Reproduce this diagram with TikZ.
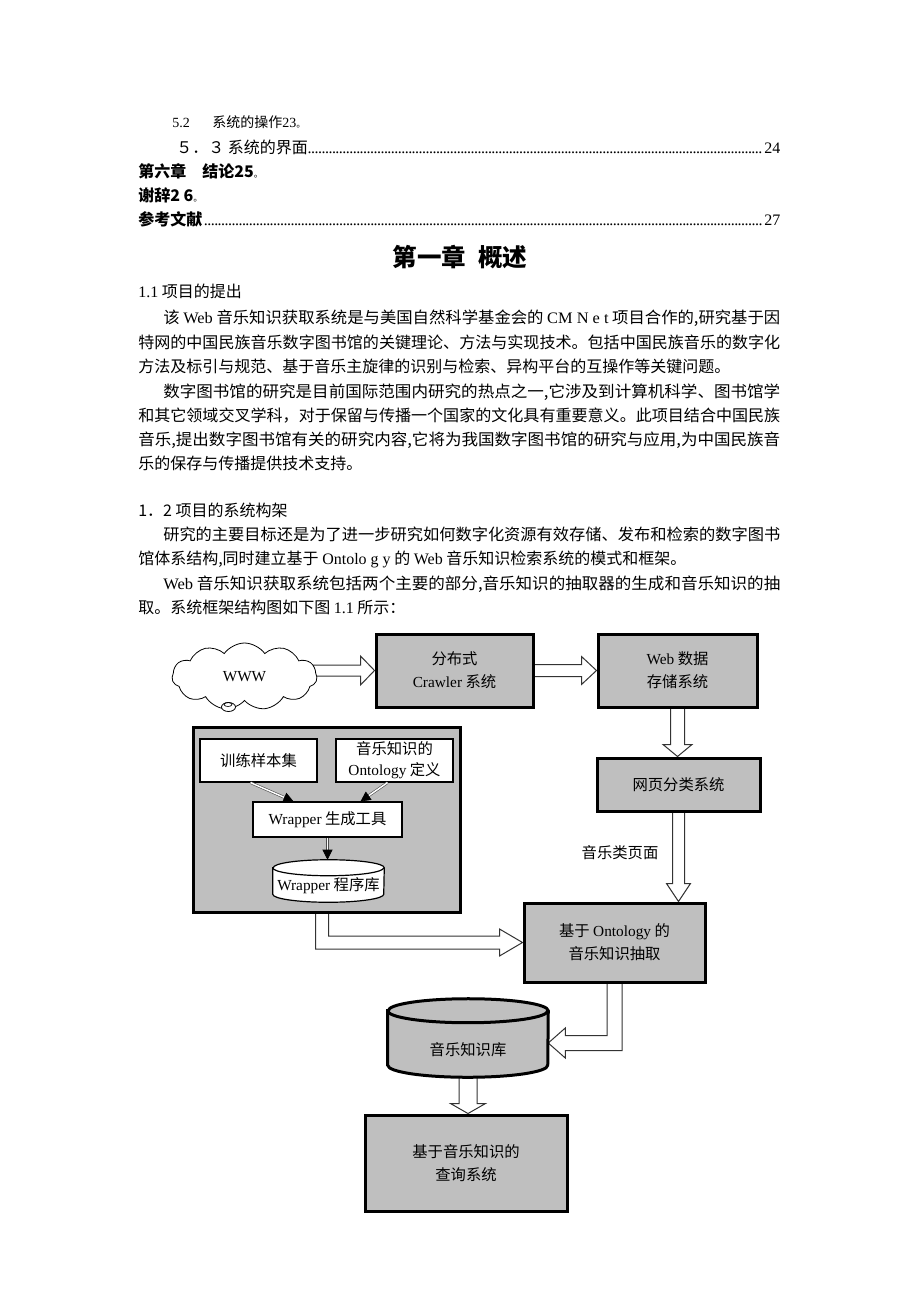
\documentclass[tikz,border=0pt]{standalone}
\usepackage{graphicx}
\usepackage{fontspec}
\setmainfont{Noto Sans CJK SC}
\newfontfamily\lat{Liberation Serif}
\usetikzlibrary{shapes.symbols,calc,arrows.meta}
\pgfdeclarelayer{bg}
\pgfdeclarelayer{arr}
\pgfsetlayers{bg,arr,main}
\newcommand\dotlead{\leaders\hbox to 2.6pt{\hss\lat.\hss}\hfill}
\newcommand\J[2]{\resizebox{#1}{\height}{#2}}
\newcommand\pmark{{\fontsize{7pt}{7pt}\selectfont\mdseries 。}}
\newcommand\HArrow[5]{\draw[barrow] let \p1=(#1), \p2=(#2) in (\x1-3pt,\y2+#3) -- (\x2-#5,\y2+#3) -- (\x2-#5,\y2+#4) -- (\x2,\y2) -- (\x2-#5,\y2-#4) -- (\x2-#5,\y2-#3) -- (\x1-3pt,\y2-#3) -- cycle;}
\newcommand\VArrow[5]{\draw[barrow] let \p1=(#1), \p2=(#2) in (\x1-#3,\y1+3pt) -- (\x1-#3,\y2+#5) -- (\x1-#4,\y2+#5) -- (\x1,\y2) -- (\x1+#4,\y2+#5) -- (\x1+#3,\y2+#5) -- (\x1+#3,\y1+3pt) -- cycle;}
\newcommand\BentA[5]{\draw[barrow] let \p1=(#1), \p2=(#2) in (\x1-#3,\y1+3pt) -- (\x1-#3,\y2-#3) -- (\x2-#5,\y2-#3) -- (\x2-#5,\y2-#4) -- (\x2,\y2) -- (\x2-#5,\y2+#4) -- (\x2-#5,\y2+#3) -- (\x1+#3,\y2+#3) -- (\x1+#3,\y1+3pt) -- cycle;}
\newcommand\BentB[5]{\draw[barrow] let \p1=(#1), \p2=(#2) in (\x1-#3,\y1+3pt) -- (\x1-#3,\y2+#3) -- (\x2+#5,\y2+#3) -- (\x2+#5,\y2+#4) -- (\x2,\y2) -- (\x2+#5,\y2-#4) -- (\x2+#5,\y2-#3) -- (\x1+#3,\y2-#3) -- (\x1+#3,\y1+3pt) -- cycle;}
\newcommand\Cyl[4]{%
  \draw[#4] ([yshift=-#3]#1.north west) -- ([yshift=#3]#1.south west) arc[start angle=180,end angle=360,x radius=#2,y radius=#3] -- ([yshift=-#3]#1.north east) arc[start angle=0,end angle=180,x radius=#2,y radius=#3] -- cycle;
  \draw[#4,fill=none] ([yshift=-#3]#1.north west) arc[start angle=180,end angle=360,x radius=#2,y radius=#3];}
\begin{document}
\begin{tikzpicture}[x=0.75pt,y=-0.75pt,
  txt/.style={anchor=west, inner sep=0pt, font=\fontsize{12pt}{14pt}\selectfont, text height=10.5pt, text depth=2.5pt},
  jline/.style={txt, text width=#1, align=justify},
  gbox/.style={draw, line width=2.25pt, fill=black!25, inner sep=0pt, align=center, font=\fontsize{11.5pt}{17.25pt}\selectfont},
  wbox/.style={draw, line width=0.9pt, fill=white, inner sep=0pt, align=center, font=\fontsize{11.5pt}{15.75pt}\selectfont},
  barrow/.style={draw=black!80, line width=0.75pt, fill=white, line join=miter},
  sshaft/.style={draw=black!70, double=white, double distance=1.1pt, line width=0.45pt},
  shead/.style={-{Triangle[length=7.5pt,width=7.5pt]}, line width=0.5pt, draw=black},
  lbl/.style={inner sep=0pt, font=\fontsize{11.5pt}{15pt}\selectfont}]
\begin{pgfonlayer}{bg}\fill[white] (0,0) rectangle (920,1302);\end{pgfonlayer}
\path[use as bounding box] (0,0) rectangle (920,1302);

% ---- table of contents ----
\node[txt, font=\fontsize{10.5pt}{12pt}\selectfont, text height=9.2pt, text depth=2.2pt] (t1) at (172,123) {{\lat 5.2}\hspace*{17pt}系统的操作{\lat 23}\pmark};
\node[jline=453pt] (t2) at (176,148) {\parfillskip=0pt ５．３ 系统的界面\dotlead{\lat 24}};
\node[txt, font=\bfseries\fontsize{12pt}{14pt}\selectfont] (t3) at (138,172) {第六章　结论25\pmark};
\node[txt, font=\bfseries\fontsize{12pt}{14pt}\selectfont] (t4) at (138,196) {谢辞2 6\pmark};
\node[jline=481.5pt] (t5) at (138,220) {\parfillskip=0pt {\bfseries 参考文献}\dotlead{\lat 27}};

% ---- chapter ----
\node[inner sep=0pt, font=\bfseries\fontsize{18.4pt}{20pt}\selectfont] (title) at (460,257) {第一章\hspace{9pt}概述};
\node[txt] (p0) at (138,292) {{\lat 1.1} 项目的提出};
\node[txt] (p1) at (163,318) {\J{462.75pt}{该 {\lat Web} 音乐知识获取系统是与美国自然科学基金会的 {\lat CM N e t} 项目合作的,研究基于因}};
\node[txt] (p2) at (138,343) {\J{481.5pt}{特网的中国民族音乐数字图书馆的关键理论、方法与实现技术。包括中国民族音乐的数字化}};
\node[txt] (p3) at (138,367) {方法及标引与规范、基于音乐主旋律的识别与检索、异构平台的互操作等关键问题。};
\node[txt] (p4) at (163,392) {\J{462.75pt}{数字图书馆的研究是目前国际范围内研究的热点之一,它涉及到计算机科学、图书馆学}};
\node[txt] (p5) at (138,416) {\J{481.5pt}{和其它领域交叉学科，对于保留与传播一个国家的文化具有重要意义。此项目结合中国民族}};
\node[txt] (p6) at (138,440) {\J{481.5pt}{音乐,提出数字图书馆有关的研究内容,它将为我国数字图书馆的研究与应用,为中国民族音}};
\node[txt] (p7) at (138,464) {乐的保存与传播提供技术支持。};
\node[txt] (q0) at (138,511) {1．2 项目的系统构架};
\node[txt] (q1) at (163,535) {\J{462.75pt}{研究的主要目标还是为了进一步研究如何数字化资源有效存储、发布和检索的数字图书}};
\node[txt] (q2) at (138,559) {馆体系结构,同时建立基于 {\lat Ontolo g y} 的 {\lat Web} 音乐知识检索系统的模式和框架。};
\node[txt] (q3) at (163,584) {\J{462.75pt}{{\lat Web} 音乐知识获取系统包括两个主要的部分,音乐知识的抽取器的生成和音乐知识的抽}};
\node[txt] (q4) at (138,608) {取。系统框架结构图如下图 {\lat 1.1} 所示：};

% ---- diagram ----
\node[cloud, cloud puffs=11, cloud puff arc=110, aspect=2.16, draw, line width=0.6pt, fill=white, minimum width=108.75pt, minimum height=50.25pt, inner sep=0pt, font=\lat\fontsize{11.5pt}{14pt}\selectfont] (www) at (244.5,676.5) {WWW};
\draw[line width=0.6pt, fill=white] (228.5,707) ellipse [x radius=7, y radius=4.5];
\draw[line width=0.5pt] (228,704.5) ellipse [x radius=4, y radius=2];

\node[gbox, minimum width=117.75pt, minimum height=54.75pt] (crawl) at (454.5,670.5) {分布式\\{\lat Crawler} 系统};
\node[gbox, minimum width=119.25pt, minimum height=54.75pt] (web) at (677.5,670.5) {{\lat Web} 数据\\存储系统};
\node[gbox, minimum width=122.25pt, minimum height=39.75pt] (cls) at (678.5,784.5) {网页分类系统};
\node[gbox, minimum width=200.25pt, minimum height=138.75pt] (panel) at (326.5,819.5) {};
\node[wbox, minimum width=87.75pt, minimum height=32.25pt] (tr) at (258.5,760.5) {训练样本集};
\node[wbox, minimum width=87.75pt, minimum height=32.25pt] (od) at (394.5,760.5) {音乐知识的\\{\lat Ontology} 定义};
\node[wbox, minimum width=111.75pt, minimum height=26.25pt] (wr) at (327.5,819.5) {{\lat Wrapper} 生成工具};
\node[inner sep=0pt, minimum width=83.25pt, minimum height=31.5pt] (wlib) at (328.5,881) {};
\Cyl{wlib}{41.625pt}{6pt}{line width=0.9pt, fill=white}
\node[lbl] (wlibt) at (328.5,886) {{\lat Wrapper} 程序库};
\node[gbox, minimum width=135.75pt, minimum height=59.25pt] (onto) at (614.5,942.5) {基于 {\lat Ontology} 的\\音乐知识抽取};
\node[inner sep=0pt, minimum width=120pt, minimum height=58.5pt] (kb) at (468,1038) {};
\Cyl{kb}{60pt}{9pt}{line width=2.25pt, fill=black!25}
\node[lbl] (kbt) at (468,1050) {音乐知识库};
\node[gbox, minimum width=151.5pt, minimum height=72pt] (query) at (466,1163) {基于音乐知识的\\查询系统};
\node[lbl] (mp) at (620,853) {音乐类页面};

% small arrows inside the panel
\coordinate (a1) at ($(tr.south)+(-8,0)$);
\coordinate (a2) at ($(wr.north)+(-34,0)$);
\coordinate (b1) at ($(od.south)+(-7,0)$);
\coordinate (b2) at ($(wr.north)+(33,0)$);
\coordinate (c2) at (wr.south |- wlib.north);
\draw[sshaft, shorten >=6pt] (a1) -- (a2);
\draw[shead] ($(a2)!7.5pt!(a1)$) -- (a2);
\draw[sshaft, shorten >=6pt] (b1) -- (b2);
\draw[shead] ($(b2)!7.5pt!(b1)$) -- (b2);
\draw[sshaft, shorten >=6pt] (wr.south) -- (c2);
\draw[shead] ($(c2)!7.5pt!(wr.south)$) -- (c2);

% hollow block arrows
\coordinate (pout) at ($(panel.south west)+(130.5,0)$);
\coordinate (kbin) at ($(kb.east)+(0,5)$);
\begin{pgfonlayer}{arr}
\HArrow{www.east}{crawl.west}{4.125pt}{10.875pt}{10.5pt}
\HArrow{crawl.east}{web.west}{4.5pt}{10.5pt}{11.25pt}
\VArrow{web.south}{cls.north}{5.25pt}{10.875pt}{9pt}
\VArrow{cls.south}{onto.north}{4.5pt}{9pt}{13.5pt}
\BentA{pout}{onto.west}{4.875pt}{10.125pt}{17.25pt}
\BentB{onto.south}{kbin}{5.625pt}{11.25pt}{12.75pt}
\VArrow{kb.south}{query.north}{6.75pt}{13.125pt}{7.5pt}
\end{pgfonlayer}
\end{tikzpicture}
\end{document}
